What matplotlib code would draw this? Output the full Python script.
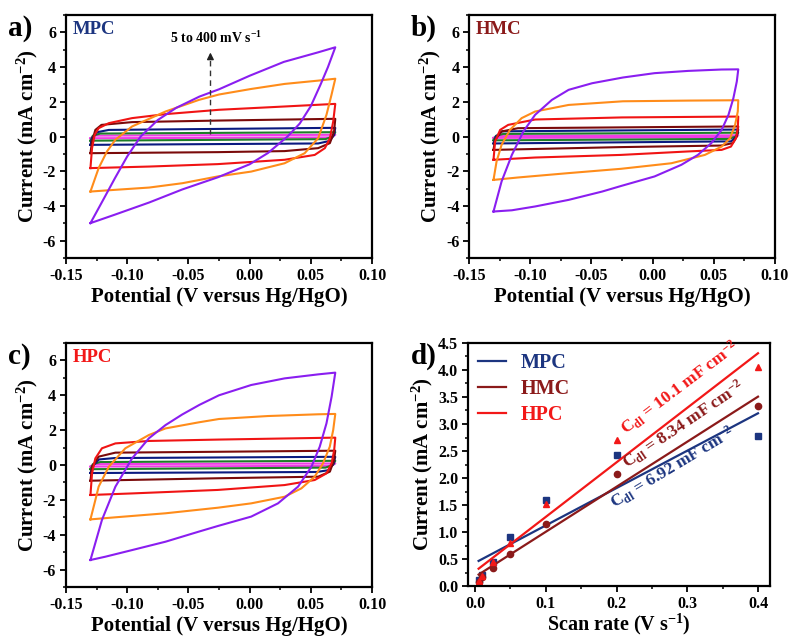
import matplotlib
matplotlib.use("Agg")
import matplotlib.pyplot as plt
from matplotlib.ticker import MultipleLocator

plt.rcParams['font.family'] = ['Liberation Serif', 'DejaVu Serif']
plt.rcParams['font.weight'] = 'bold'
plt.rcParams['axes.labelweight'] = 'bold'
plt.rcParams['axes.unicode_minus'] = False
plt.rcParams['mathtext.default'] = 'regular'

# scan rates (mV/s) and loop colours, innermost first
scan_rates = [5, 10, 25, 50, 100, 200, 400]
loop_colors = ['#f03ce6', '#1e7d28', '#0a1a80', '#7a0a0a', '#f01414', '#ff8c1a', '#8a1ef0']

# CV loops: forward scan -0.13 -> 0.07 V, then back
mpc_E = [
    [-0.130, -0.127, 0.070, 0.067, -0.130],
    [-0.130, -0.128, -0.122, 0.070, 0.068, 0.062, -0.130],
    [-0.130, -0.1287, -0.1245, -0.115, 0.070, 0.069, 0.0656, 0.056, -0.130],
    [-0.130, -0.1287, -0.126, -0.121, -0.096, -0.025, 0.070, 0.069, 0.0656, 0.056, 0.0286, -0.026, -0.130],
    [-0.130, -0.1287, -0.1265, -0.1233, -0.115, -0.096, -0.0687, -0.025, 0.0286, 0.070,
     0.0683, 0.0656, 0.0615, 0.0532, 0.0286, -0.026, -0.082, -0.130],
    [-0.130, -0.1233, -0.1165, -0.1097, -0.096, -0.0687, -0.0414, -0.025, 0.0013, 0.0286, 0.056, 0.070,
     0.0669, 0.0628, 0.056, 0.045, 0.0286, 0.0013, -0.026, -0.0549, -0.082, -0.1096, -0.130],
    [-0.130, -0.120, -0.110, -0.100, -0.089, -0.075, -0.060, -0.041, -0.025, 0.000, 0.028, 0.056, 0.070,
     0.064, 0.058, 0.050, 0.041, 0.031, 0.015, 0.000, -0.026, -0.055, -0.082, -0.110, -0.130],
]
mpc_I = [
    [-0.10, 0.05, 0.10, -0.05, -0.10],
    [-0.24, 0.05, 0.17, 0.25, 0.00, -0.15, -0.24],
    [-0.48, -0.10, 0.25, 0.38, 0.50, 0.10, -0.25, -0.40, -0.48],
    [-0.96, -0.29, 0.38, 0.67, 0.83, 0.92, 1.02, 0.29, -0.38, -0.67, -0.84, -0.90, -0.96],
    [-1.82, -0.67, 0.10, 0.48, 0.77, 1.06, 1.29, 1.54, 1.73, 1.88,
     0.86, -0.10, -0.67, -1.06, -1.34, -1.59, -1.73, -1.82],
    [-3.17, -1.82, -0.86, -0.19, 0.58, 1.44, 2.11, 2.42, 2.74, 3.03, 3.22, 3.33,
     2.40, 1.25, -0.10, -0.96, -1.54, -2.02, -2.30, -2.69, -2.94, -3.07, -3.17],
    [-4.99, -3.70, -2.40, -1.15, 0.00, 0.95, 1.65, 2.30, 2.72, 3.50, 4.30, 4.85, 5.14,
     4.00, 3.00, 1.75, 0.75, 0.00, -0.95, -1.60, -2.35, -3.05, -3.80, -4.50, -4.99],
]

hmc_E = [
    [-0.130, -0.127, 0.070, 0.067, -0.130],
    [-0.130, -0.128, -0.122, 0.070, 0.068, 0.062, -0.130],
    [-0.130, -0.128, -0.123, 0.070, 0.0685, 0.064, -0.130],
    [-0.130, -0.1287, -0.1234, -0.110, 0.070, 0.0688, 0.0655, 0.056, -0.026, -0.130],
    [-0.130, -0.1287, -0.1246, -0.118, -0.096, -0.025, 0.070,
     0.0696, 0.0681, 0.064, 0.0564, 0.029, -0.026, -0.096, -0.130],
    [-0.130, -0.1275, -0.1234, -0.1166, -0.107, -0.096, -0.0686, -0.0242, 0.030, 0.070,
     0.0696, 0.0674, 0.0633, 0.0564, 0.0427, 0.0153, -0.0258, -0.069, -0.110, -0.130],
    [-0.130, -0.1234, -0.115, -0.1056, -0.096, -0.0823, -0.0686, -0.0494, -0.0242, 0.0016, 0.029, 0.0564, 0.070,
     0.0688, 0.066, 0.062, 0.0564, 0.048, 0.037, 0.0235, 0.0016, -0.0258, -0.0412, -0.0686, -0.096, -0.115, -0.130],
]
hmc_I = [
    [-0.08, 0.04, 0.07, -0.04, -0.08],
    [-0.22, 0.04, 0.15, 0.22, 0.00, -0.14, -0.22],
    [-0.40, 0.00, 0.30, 0.40, 0.00, -0.28, -0.40],
    [-0.77, -0.19, 0.29, 0.48, 0.58, 0.00, -0.38, -0.52, -0.61, -0.77],
    [-1.34, -0.29, 0.38, 0.67, 0.98, 1.10, 1.15,
     0.48, -0.10, -0.58, -0.77, -0.86, -1.06, -1.21, -1.34],
    [-2.50, -1.44, -0.48, 0.38, 1.06, 1.44, 1.82, 2.03, 2.07, 2.09,
     1.44, 0.67, -0.10, -0.58, -1.06, -1.54, -1.86, -2.11, -2.36, -2.50],
    [-4.32, -2.59, -1.06, 0.29, 1.25, 2.11, 2.69, 3.07, 3.40, 3.65, 3.78, 3.86, 3.87,
     3.17, 2.21, 1.25, 0.38, -0.38, -1.06, -1.63, -2.30, -2.85, -3.17, -3.65, -4.03, -4.25, -4.32],
]

hpc_E = [
    [-0.130, -0.127, 0.070, 0.067, -0.130],
    [-0.130, -0.128, -0.122, 0.070, 0.068, 0.062, -0.130],
    [-0.130, -0.128, -0.123, -0.110, 0.070, 0.0685, 0.064, 0.055, -0.130],
    [-0.130, -0.1287, -0.1233, -0.1096, -0.025, 0.070, 0.069, 0.0656, 0.056, -0.026, -0.130],
    [-0.130, -0.1287, -0.126, -0.1206, -0.1096, -0.0823, -0.025, 0.070,
     0.0691, 0.067, 0.0628, 0.0532, 0.0286, -0.026, -0.096, -0.130],
    [-0.130, -0.126, -0.1233, -0.115, -0.1015, -0.0823, -0.0687, -0.0414, -0.025, 0.015, 0.056, 0.070,
     0.0683, 0.0655, 0.060, 0.0532, 0.0423, 0.0286, 0.0013, -0.026, -0.0687, -0.1096, -0.130],
    [-0.130, -0.1206, -0.1096, -0.096, -0.0823, -0.0687, -0.055, -0.041, -0.025, 0.0013, 0.0286, 0.056, 0.070,
     0.067, 0.0628, 0.0573, 0.0505, 0.0396, 0.0232, 0.0013, -0.026, -0.0414, -0.0687, -0.096, -0.1178, -0.130],
]
hpc_I = [
    [-0.09, 0.05, 0.09, -0.05, -0.09],
    [-0.24, 0.05, 0.17, 0.24, 0.00, -0.15, -0.24],
    [-0.46, -0.05, 0.32, 0.40, 0.47, 0.05, -0.30, -0.40, -0.46],
    [-0.90, -0.10, 0.48, 0.71, 0.76, 0.82, 0.29, -0.38, -0.67, -0.76, -0.90],
    [-1.72, -0.48, 0.38, 0.96, 1.24, 1.38, 1.46, 1.57,
     0.86, 0.10, -0.48, -0.86, -1.15, -1.43, -1.63, -1.72],
    [-3.12, -2.01, -1.24, -0.10, 0.96, 1.72, 2.10, 2.45, 2.64, 2.81, 2.91, 2.93,
     2.01, 1.05, 0.10, -0.67, -1.34, -1.82, -2.20, -2.45, -2.77, -3.00, -3.12],
    [-5.45, -3.15, -1.24, 0.38, 1.53, 2.29, 2.90, 3.45, 4.00, 4.59, 4.97, 5.20, 5.30,
     3.92, 2.39, 1.05, -0.10, -1.24, -2.20, -2.96, -3.50, -3.82, -4.40, -4.88, -5.26, -5.45],
]

# panel d: current vs scan rate
scan_v = [0.005, 0.01, 0.025, 0.05, 0.1, 0.2, 0.4]
mpc_cur = [0.12, 0.20, 0.45, 0.90, 1.60, 2.43, 2.78]
hmc_cur = [0.08, 0.17, 0.33, 0.60, 1.14, 2.07, 3.34]
hpc_cur = [0.10, 0.18, 0.45, 0.80, 1.52, 2.70, 4.05]
fit_slope = [6.92, 8.34, 10.1]      # mF cm-2
fit_icpt = [0.43, 0.17, 0.27]
fit_range = [0.005, 0.4]

names = ['MPC', 'HMC', 'HPC']
name_colors = ['#1c3580', '#8b1a1a', '#f21818']

fig = plt.figure(figsize=(7.9, 6.36), dpi=100)
ax_a = fig.add_axes([0.0835, 0.5943, 0.3874, 0.3821])
ax_b = fig.add_axes([0.5937, 0.5943, 0.3873, 0.3821])
ax_c = fig.add_axes([0.0835, 0.0770, 0.3874, 0.3837])
ax_d = fig.add_axes([0.5924, 0.0786, 0.3823, 0.3821])


def style(ax):
    for s in ax.spines.values():
        s.set_linewidth(1.6)
    ax.tick_params(which='major', direction='out', length=4, width=1.3, labelsize=11.5,
                   top=False, right=False, pad=3)
    ax.tick_params(which='minor', direction='out', length=2.2, width=1.1,
                   top=False, right=False)


def cv_panel(ax, E, I, name, color, letter):
    for e, i, c in zip(E, I, loop_colors):
        ax.plot(e, i, color=c, lw=1.5, solid_joinstyle='round')
    ax.set_xlim(-0.15, 0.10)
    ax.set_ylim(-7, 7)
    ax.xaxis.set_major_locator(MultipleLocator(0.05))
    ax.xaxis.set_minor_locator(MultipleLocator(0.025))
    ax.yaxis.set_major_locator(MultipleLocator(2))
    ax.yaxis.set_minor_locator(MultipleLocator(1))
    ax.set_xticks([-0.15, -0.10, -0.05, 0.00, 0.05, 0.10])
    ax.set_xticklabels(['-0.15', '-0.10', '-0.05', '0.00', '0.05', '0.10'])
    ax.set_xlabel('Potential (V versus Hg/HgO)', fontsize=15, labelpad=2)
    ax.set_ylabel('Current (mA cm$^{-2}$)', fontsize=15, labelpad=2)
    ax.text(0.022, 0.975, name, transform=ax.transAxes, color=color,
            fontsize=13.5, fontweight='bold', va='top', ha='left')
    ax.text(-0.19, 1.0, letter, transform=ax.transAxes, fontsize=21,
            fontweight='bold', va='top', ha='left')
    style(ax)


cv_panel(ax_a, mpc_E, mpc_I, 'MPC', name_colors[0], 'a)')
cv_panel(ax_b, hmc_E, hmc_I, 'HMC', name_colors[1], 'b)')
cv_panel(ax_c, hpc_E, hpc_I, 'HPC', name_colors[2], 'c)')

# scan-rate arrow in panel a
ax_a.plot([-0.032, -0.032], [0.15, 4.5], color='#333333', lw=1.0, ls=(0, (4, 3)))
ax_a.annotate('', xy=(-0.032, 5.0), xytext=(-0.032, 4.4),
              arrowprops=dict(arrowstyle='-|>', color='#222222', lw=1.0,
                              mutation_scale=10))
ax_a.text(-0.027, 5.4, '5 to 400 mV s$^{-1}$', fontsize=10, ha='center',
          va='baseline', fontweight='bold')

# panel d
markers = ['s', 'o', '^']
for cur, m, c, k, b, n in zip([mpc_cur, hmc_cur, hpc_cur], markers, name_colors,
                              fit_slope, fit_icpt, names):
    ax_d.plot(scan_v, cur, m, color=c, ms=4.5, ls='none')
    ax_d.plot(fit_range, [k * x + b for x in fit_range], color=c, lw=1.6, label=n)

ax_d.set_xlim(-0.01, 0.417)
ax_d.set_ylim(0, 4.5)
ax_d.xaxis.set_major_locator(MultipleLocator(0.1))
ax_d.xaxis.set_minor_locator(MultipleLocator(0.05))
ax_d.yaxis.set_major_locator(MultipleLocator(0.5))
ax_d.yaxis.set_minor_locator(MultipleLocator(0.25))
ax_d.set_xlabel('Scan rate (V s$^{-1}$)', fontsize=14.5, labelpad=0)
ax_d.set_ylabel('Current (mA cm$^{-2}$)', fontsize=15, labelpad=2)
style(ax_d)
leg = ax_d.legend(loc='upper left', frameon=False, fontsize=14.5, handlelength=1.4,
                  handletextpad=0.7, labelspacing=0.3, borderaxespad=0.1,
                  bbox_to_anchor=(0.0, 1.0))
for t, c in zip(leg.get_texts(), name_colors):
    t.set_color(c)
ax_d.text(-0.19, 1.0, 'd)', transform=ax_d.transAxes, fontsize=21,
          fontweight='bold', va='top', ha='left')

labels_d = ['C$_{dl}$ = 6.92 mF cm$^{-2}$', 'C$_{dl}$ = 8.34 mF cm$^{-2}$',
            'C$_{dl}$ = 10.1 mF cm$^{-2}$']
pos_d = [(0.197, 1.42), (0.216, 2.16), (0.214, 2.80)]
rot_d = [31, 34, 37]
for s, p, r, c in zip(labels_d, pos_d, rot_d, name_colors):
    ax_d.text(p[0], p[1], s, color=c, fontsize=12.5, fontweight='bold',
              rotation=r, rotation_mode='anchor', ha='left', va='baseline')

fig.savefig('out.png', dpi=100)
